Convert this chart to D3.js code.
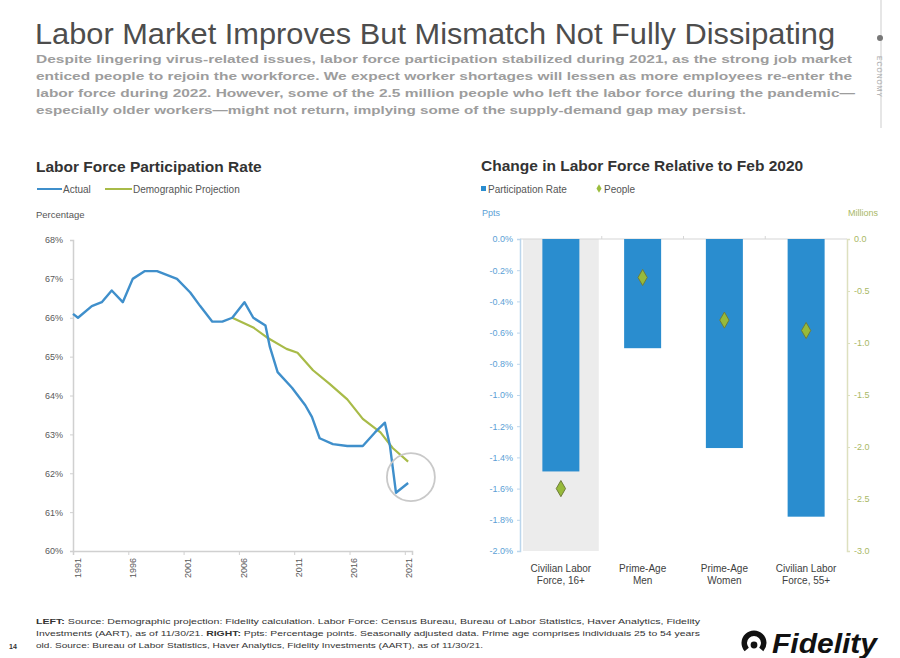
<!DOCTYPE html>
<html>
<head>
<meta charset="utf-8">
<script src="https://cdn.jsdelivr.net/npm/d3@7"></script>
<style>
  html, body { margin: 0; padding: 0; background: #fff; }
  svg { display: block; font-family: "Liberation Sans", Arial, sans-serif; }
</style>
</head>
<body>
<svg id="page" width="900" height="658"></svg>
<script>
// ---- Left panel: labor force participation rate (%) ----
const actualYears  = [1991.0, 1991.45, 1992.7, 1993.6, 1994.5, 1995.5, 1996.4, 1997.5, 1998.6, 2000.4,
                      2001.6, 2002.5, 2003.6, 2004.5, 2005.4, 2006.5, 2007.3, 2008.4, 2008.8, 2009.5,
                      2010.8, 2012.0, 2012.6, 2013.3, 2014.5, 2015.8, 2017.2, 2018.3, 2019.2, 2019.66,
                      2020.2, 2021.3];
const actualValues = [66.1, 66.0, 66.3, 66.4, 66.7, 66.4, 67.0, 67.2, 67.2, 67.0,
                      66.65, 66.3, 65.9, 65.9, 66.0, 66.4, 66.0, 65.8, 65.25, 64.6,
                      64.2, 63.75, 63.45, 62.9, 62.75, 62.7, 62.7, 63.05, 63.3, 62.7,
                      61.5, 61.75];
const projectionYears  = [2005.4, 2007.3, 2008.5, 2010.3, 2011.3, 2012.7, 2014.2, 2015.8, 2017.2, 2018.8, 2019.9, 2021.3];
const projectionValues = [66.0, 65.75, 65.5, 65.2, 65.1, 64.65, 64.3, 63.9, 63.4, 63.05, 62.65, 62.3];
const percentTicks = [60, 61, 62, 63, 64, 65, 66, 67, 68];
const yearTicks = [1991, 1996, 2001, 2006, 2011, 2016, 2021];
const highlightYear = 2021.55, highlightValue = 61.9;

// ---- Right panel: change relative to Feb 2020 ----
const categories = [["Civilian Labor", "Force, 16+"], ["Prime-Age", "Men"], ["Prime-Age", "Women"], ["Civilian Labor", "Force, 55+"]];
const participationChange = [-1.49, -0.70, -1.34, -1.78];   // ppts
const peopleChange = [-2.40, -0.37, -0.78, -0.88];          // millions
const pptsTicks = [0, -0.2, -0.4, -0.6, -0.8, -1.0, -1.2, -1.4, -1.6, -1.8, -2.0];
const millionsTicks = [0, -0.5, -1.0, -1.5, -2.0, -2.5, -3.0];

const subtitleLines = [
  "Despite lingering virus-related issues, labor force participation stabilized during 2021, as the strong job market",
  "enticed people to rejoin the workforce. We expect worker shortages will lessen as more employees re-enter the",
  "labor force during 2022. However, some of the 2.5 million people who left the labor force during the pandemic\u2014",
  "especially older workers\u2014might not return, implying some of the supply-demand gap may persist."
];
const footnoteLines = [
  [["LEFT: ", true], ["Source: Demographic projection: Fidelity calculation. Labor Force: Census Bureau, Bureau of Labor Statistics, Haver Analytics, Fidelity", false]],
  [["Investments (AART), as of 11/30/21. ", false], ["RIGHT: ", true], ["Ppts: Percentage points. Seasonally adjusted data. Prime age comprises individuals 25 to 54 years", false]],
  [["old. Source: Bureau of Labor Statistics, Haver Analytics, Fidelity Investments (AART), as of 11/30/21.", false]]
];

const BLUE_LINE = "#3f8fcb", GREEN_LINE = "#a8bb48", BAR_BLUE = "#2a8dcf";
const AXIS_BLUE_TEXT = "#5c9fd6", AXIS_GREEN_TEXT = "#a9b865";

const svg = d3.select("#page");

// ---- Header ----
svg.append("text")
  .attr("x", 35).attr("y", 44)
  .attr("font-size", 29.5).attr("fill", "#4d4d4d")
  .attr("textLength", 800).attr("lengthAdjust", "spacingAndGlyphs")
  .text("Labor Market Improves But Mismatch Not Fully Dissipating");

const subWidths = [816, 816, 819, 710];
svg.append("g").selectAll("text").data(subtitleLines).join("text")
  .attr("x", 36).attr("y", (d, i) => 63 + i * 17)
  .attr("font-size", 11.5).attr("font-weight", "bold").attr("fill", "#9d9d9d")
  .attr("textLength", (d, i) => subWidths[i]).attr("lengthAdjust", "spacingAndGlyphs")
  .text(d => d);

// side tab
svg.append("line").attr("x1", 881).attr("x2", 881).attr("y1", 0).attr("y2", 128)
  .attr("stroke", "#e6e6e6").attr("stroke-width", 2);
svg.append("circle").attr("cx", 880).attr("cy", 38).attr("r", 3).attr("fill", "#777");
svg.append("text").attr("transform", "translate(877,56) rotate(90)")
  .attr("font-size", 6.5).attr("fill", "#aaa").attr("letter-spacing", 1.2)
  .text("ECONOMY");

// ---- Left chart ----
const L = { x0: 73, x1: 412, y0: 240, y1: 551 };
const xL = d3.scaleLinear().domain([1991, 2021.65]).range([L.x0, L.x1]);
const yL = d3.scaleLinear().domain([60, 68]).range([L.y1, L.y0]);

svg.append("text").attr("x", 36).attr("y", 172)
  .attr("font-size", 15.5).attr("font-weight", "bold").attr("fill", "#333")
  .text("Labor Force Participation Rate");

// legend
const legL = svg.append("g").attr("font-size", 10).attr("fill", "#555");
legL.append("line").attr("x1", 37).attr("x2", 62).attr("y1", 189).attr("y2", 189).attr("stroke", BLUE_LINE).attr("stroke-width", 2);
legL.append("text").attr("x", 63).attr("y", 192.5).text("Actual");
legL.append("line").attr("x1", 105).attr("x2", 132).attr("y1", 189).attr("y2", 189).attr("stroke", GREEN_LINE).attr("stroke-width", 2);
legL.append("text").attr("x", 133).attr("y", 192.5).text("Demographic Projection");

svg.append("text").attr("x", 36).attr("y", 218).attr("font-size", 9.5).attr("fill", "#555").text("Percentage");

const yAxisL = svg.append("g").attr("transform", `translate(${L.x0},0)`)
  .call(d3.axisLeft(yL).tickValues(percentTicks).tickSize(3).tickPadding(7).tickFormat(d => d + "%"));
yAxisL.select(".domain").attr("stroke", "#d0d0d0").attr("stroke-width", 1.5);
yAxisL.selectAll(".tick line").attr("stroke", "#d0d0d0");
yAxisL.selectAll(".tick text").attr("font-size", 9).attr("fill", "#595959")
  .attr("font-family", "Liberation Sans, Arial, sans-serif");

const xAxisL = svg.append("g").attr("transform", `translate(0,${L.y1})`)
  .call(d3.axisBottom(xL).tickValues(yearTicks).tickSize(4).tickFormat(d3.format("d")));
xAxisL.select(".domain").attr("stroke", "#d0d0d0").attr("stroke-width", 1.5);
xAxisL.selectAll(".tick line").attr("stroke", "#d0d0d0");
xAxisL.selectAll(".tick text")
  .attr("font-size", 9).attr("fill", "#595959").attr("font-family", "Liberation Sans, Arial, sans-serif")
  .attr("transform", "rotate(-90)").attr("text-anchor", "end")
  .attr("x", -7).attr("y", 4).attr("dy", "0.35em");

const lineGen = d3.line().x(d => xL(d[0])).y(d => yL(d[1]));
const actual = actualYears.map((y, i) => [y, actualValues[i]]);
const projection = projectionYears.map((y, i) => [y, projectionValues[i]]);

svg.append("path").datum(projection).attr("d", lineGen)
  .attr("fill", "none").attr("stroke", GREEN_LINE).attr("stroke-width", 2.2).attr("stroke-linejoin", "round");
svg.append("path").datum(actual).attr("d", lineGen)
  .attr("fill", "none").attr("stroke", BLUE_LINE).attr("stroke-width", 2.4).attr("stroke-linejoin", "round");

svg.append("circle").attr("cx", xL(highlightYear)).attr("cy", yL(highlightValue)).attr("r", 24)
  .attr("fill", "none").attr("stroke", "#c9c9c9").attr("stroke-width", 1.8);

// ---- Right chart ----
const R = { x0: 520, x1: 847, y0: 239, y1: 551 };
const xR = d3.scaleBand().domain(d3.range(categories.length)).range([R.x0, R.x1]);
const yPpts = d3.scaleLinear().domain([-2, 0]).range([R.y1, R.y0]);
const yMil = d3.scaleLinear().domain([-3, 0]).range([R.y1, R.y0]);

svg.append("text").attr("x", 481).attr("y", 171)
  .attr("font-size", 15.5).attr("font-weight", "bold").attr("fill", "#333")
  .text("Change in Labor Force Relative to Feb 2020");

const legR = svg.append("g").attr("font-size", 10).attr("fill", "#555");
legR.append("rect").attr("x", 481).attr("y", 186).attr("width", 5).attr("height", 5).attr("fill", BAR_BLUE);
legR.append("text").attr("x", 488).attr("y", 192.5).text("Participation Rate");
legR.append("path").attr("d", d3.symbol(d3.symbolDiamond).size(22)())
  .attr("transform", "translate(599,188.5)").attr("fill", "#9bbd3d");
legR.append("text").attr("x", 604).attr("y", 192.5).text("People");

svg.append("text").attr("x", 482).attr("y", 216).attr("font-size", 9).attr("fill", AXIS_BLUE_TEXT).text("Ppts");
svg.append("text").attr("x", 878).attr("y", 216).attr("text-anchor", "end").attr("font-size", 9)
  .attr("fill", AXIS_GREEN_TEXT).text("Millions");

// shaded band behind the first category
svg.append("rect")
  .attr("x", xR(0) + 3).attr("y", R.y0).attr("width", xR.bandwidth() - 6).attr("height", R.y1 - R.y0)
  .attr("fill", "#ececec");

// zero line with category dividers
svg.append("line").attr("x1", R.x0).attr("x2", R.x1).attr("y1", yPpts(0)).attr("y2", yPpts(0))
  .attr("stroke", "#d6d6d6").attr("stroke-width", 1.2);
svg.append("g").selectAll("line").data(d3.range(1, categories.length)).join("line")
  .attr("x1", d => xR(d)).attr("x2", d => xR(d)).attr("y1", yPpts(0)).attr("y2", yPpts(0) - 3)
  .attr("stroke", "#d6d6d6");

const axisPpts = svg.append("g").attr("transform", `translate(${R.x0},0)`)
  .call(d3.axisLeft(yPpts).tickValues(pptsTicks).tickSize(3).tickPadding(4).tickFormat(d => d.toFixed(1) + "%"));
axisPpts.select(".domain").attr("stroke", "#bcd6ec").attr("stroke-width", 1.5);
axisPpts.selectAll(".tick line").attr("stroke", "#bcd6ec");
axisPpts.selectAll(".tick text").attr("font-size", 9).attr("fill", AXIS_BLUE_TEXT)
  .attr("font-family", "Liberation Sans, Arial, sans-serif");

const axisMil = svg.append("g").attr("transform", `translate(${R.x1},0)`)
  .call(d3.axisRight(yMil).tickValues(millionsTicks).tickSize(3).tickPadding(4).tickFormat(d => d.toFixed(1)));
axisMil.select(".domain").attr("stroke", "#dde0bf").attr("stroke-width", 1.5);
axisMil.selectAll(".tick line").attr("stroke", "#dde0bf");
axisMil.selectAll(".tick text").attr("font-size", 9).attr("fill", AXIS_GREEN_TEXT)
  .attr("font-family", "Liberation Sans, Arial, sans-serif");

const barW = 37;
svg.append("g").selectAll("rect").data(participationChange).join("rect")
  .attr("x", (d, i) => xR(i) + xR.bandwidth() / 2 - barW / 2)
  .attr("y", yPpts(0))
  .attr("width", barW)
  .attr("height", d => yPpts(d) - yPpts(0))
  .attr("fill", BAR_BLUE);

svg.append("g").selectAll("path").data(peopleChange).join("path")
  .attr("d", d3.symbol(d3.symbolDiamond).size(75)())
  .attr("transform", (d, i) => `translate(${xR(i) + xR.bandwidth() / 2},${yMil(d)})`)
  .attr("fill", "#97ba3a").attr("stroke", "#6f7d3a").attr("stroke-width", 1);

const catLabels = svg.append("g").attr("font-size", 10).attr("fill", "#404040").attr("text-anchor", "middle");
categories.forEach((lines, i) => {
  const t = catLabels.append("text").attr("x", xR(i) + xR.bandwidth() / 2).attr("y", 572);
  lines.forEach((ln, j) => t.append("tspan").attr("x", xR(i) + xR.bandwidth() / 2).attr("dy", j ? 12 : 0).text(ln));
});

// ---- Footer ----
const footW = [664, 664, 447];
footnoteLines.forEach((parts, i) => {
  const t = svg.append("text").attr("x", 36).attr("y", 624 + i * 12)
    .attr("font-size", 7).attr("fill", "#333");
  if (footW[i]) t.attr("textLength", footW[i]).attr("lengthAdjust", "spacingAndGlyphs");
  parts.forEach(([s, b]) => t.append("tspan").attr("font-weight", b ? "bold" : "normal").text(s));
});
svg.append("text").attr("x", 9).attr("y", 649).attr("font-size", 7).attr("font-weight", "bold").attr("fill", "#333").text("14");

// logo
const logo = svg.append("g");
logo.append("path")
  .attr("d", d3.arc().innerRadius(7).outerRadius(12.5).startAngle(-2.3).endAngle(2.3)())
  .attr("transform", "translate(754,643)").attr("fill", "#111");
logo.append("circle").attr("cx", 754).attr("cy", 645).attr("r", 3.4).attr("fill", "#111");
logo.append("text").attr("x", 772).attr("y", 653)
  .attr("font-size", 27).attr("font-weight", "bold").attr("font-style", "italic").attr("fill", "#111")
  .attr("textLength", 105).attr("lengthAdjust", "spacingAndGlyphs")
  .text("Fidelity");
</script>
</body>
</html>
